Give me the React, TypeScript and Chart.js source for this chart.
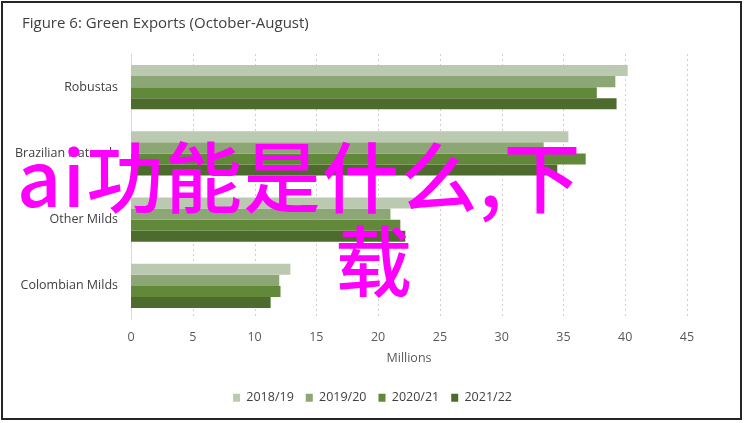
import { useEffect, useRef } from "react";
import { Chart, registerables } from "chart.js";

Chart.register(...registerables);

const categories = ["Robustas", "Brazilian Naturals", "Other Milds", "Colombian Milds"];
const seasons = ["2018/19", "2019/20", "2020/21", "2021/22"];
const colors = ["#bcc9b1", "#8da676", "#62883a", "#4e6b2e"];

const exports1819 = [40.2, 35.4, 23.0, 12.9];
const exports1920 = [39.2, 33.4, 21.0, 12.0];
const exports2021 = [37.7, 36.8, 21.8, 12.1];
const exports2122 = [39.3, 34.5, 22.2, 11.3];

const seriesValues = [exports1819, exports1920, exports2021, exports2122];

const FONT = "'Open Sans', 'Liberation Sans', sans-serif";

export default function App() {
  const canvasRef = useRef<HTMLCanvasElement>(null);

  useEffect(() => {
    document.body.style.margin = "0";
    if (!canvasRef.current) return;

    const chart = new Chart(canvasRef.current, {
      type: "bar",
      data: {
        labels: categories,
        datasets: seasons.map((s, i) => ({
          label: s,
          data: seriesValues[i],
          backgroundColor: colors[i],
          borderWidth: 0,
          barPercentage: 1,
          categoryPercentage: 0.667,
        })),
      },
      options: {
        indexAxis: "y",
        animation: false,
        responsive: false,
        maintainAspectRatio: false,
        layout: { padding: { left: 14, right: 57, top: 0, bottom: 9 } },
        plugins: {
          title: {
            display: true,
            text: "Figure 6: Green Exports (October-August)",
            align: "start",
            color: "#404040",
            font: { family: FONT, size: 15, weight: "normal" },
            padding: { top: 15, bottom: 21 },
          },
          legend: {
            position: "bottom",
            labels: {
              boxWidth: 7,
              boxHeight: 8,
              padding: 12,
              color: "#404040",
              font: { family: FONT, size: 12.5 },
            },
          },
          tooltip: { enabled: false },
        },
        scales: {
          x: {
            min: 0,
            max: 45,
            afterFit: (s: any) => {
              s.height = 60.5;
            },
            ticks: {
              stepSize: 5,
              color: "#595959",
              font: { family: FONT, size: 12.5 },
              padding: 10.5,
            },
            grid: { display: false, drawTicks: false },
            border: { display: false },
            title: {
              display: true,
              text: "Millions",
              color: "#595959",
              font: { family: FONT, size: 12.5 },
              padding: { top: 4, bottom: 14 },
            },
          },
          y: {
            afterFit: (s: any) => {
              s.width = 117;
            },
            ticks: {
              color: "#404040",
              font: { family: FONT, size: 12.5 },
              padding: 13,
            },
            grid: { display: false, drawTicks: false },
            border: { display: true, color: "#d9d9d9", width: 1 },
          },
        },
      },
      plugins: [
        {
          id: "dottedGrid",
          beforeDatasetsDraw(c: any) {
            const { ctx, chartArea, scales } = c;
            ctx.save();
            ctx.strokeStyle = "#d0d0d0";
            ctx.lineWidth = 1;
            ctx.setLineDash([2, 3]);
            for (let v = 5; v <= 45; v += 5) {
              const x = Math.round(scales.x.getPixelForValue(v)) + 0.5;
              ctx.beginPath();
              ctx.moveTo(x, chartArea.top);
              ctx.lineTo(x, chartArea.bottom);
              ctx.stroke();
            }
            ctx.restore();
          },
        },
        {
          // nudge title and legend to where the original figure has them
          id: "nudge",
          afterLayout(c: any) {
            if (c.legend) {
              c.legend.left += 22;
              c.legend.right += 22;
            }
            if (c.titleBlock) {
              c.titleBlock.left += 8;
              c.titleBlock.right += 8;
            }
          },
        },
      ],
    });

    return () => {
      chart.destroy();
    };
  }, []);

  const mark = {
    position: "absolute" as const,
    fontFamily: "'Noto Sans CJK SC', sans-serif",
    fontSize: 77,
    lineHeight: "82px",
    fontWeight: 500,
    color: "#ff00ff",
    whiteSpace: "nowrap" as const,
    letterSpacing: 1.5,
  };

  return (
    <div style={{ position: "relative", width: 744, height: 423, background: "#fff", overflow: "hidden" }}>
      <canvas ref={canvasRef} width={744} height={423} style={{ position: "absolute", left: 0, top: 0 }} />
      <div
        style={{
          position: "absolute",
          left: 1,
          top: 1,
          width: 741,
          height: 419,
          border: "2px solid #262626",
          boxSizing: "border-box",
          pointerEvents: "none",
        }}
      />
      <div style={{ ...mark, left: 17, top: 133 }}>ai功能是什么,下</div>
      <div style={{ ...mark, left: 335, top: 217 }}>载</div>
    </div>
  );
}
